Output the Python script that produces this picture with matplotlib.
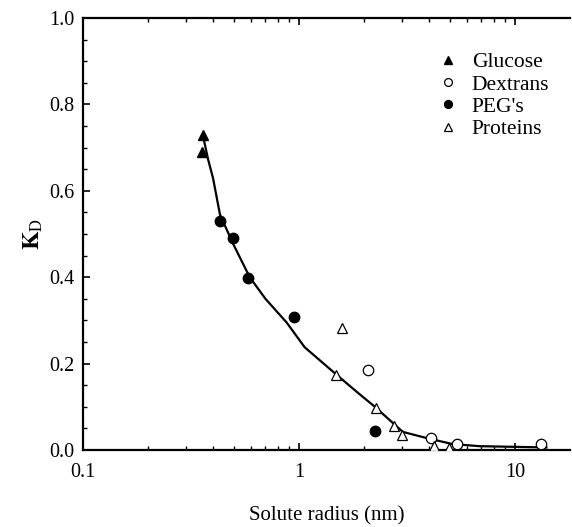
import matplotlib
matplotlib.use("Agg")
import matplotlib.pyplot as plt
from matplotlib.ticker import NullFormatter, MultipleLocator, FormatStrFormatter

plt.rcParams['font.family'] = ['Liberation Serif', 'DejaVu Serif']
plt.rcParams['mathtext.fontset'] = 'stix'

glucose_x = [0.359, 0.357]
glucose_y = [0.729, 0.690]
dextran_x = [2.08, 4.08, 5.37, 13.2]
dextran_y = [0.185, 0.029, 0.014, 0.014]
peg_x = [0.431, 0.495, 0.581, 0.948, 2.25]
peg_y = [0.530, 0.491, 0.398, 0.308, 0.044]
protein_x = [1.587, 1.48, 2.27, 2.75, 2.99, 4.23, 4.96]
protein_y = [0.282, 0.174, 0.097, 0.056, 0.035, 0.010, 0.004]
curve_x = [0.359, 0.38, 0.40, 0.431, 0.495, 0.592, 0.70, 0.878, 1.063, 1.465, 1.85, 2.25, 2.65, 3.03, 4.03, 5.14, 6.85, 14.0]
curve_y = [0.729, 0.672, 0.630, 0.545, 0.478, 0.400, 0.350, 0.295, 0.238, 0.178, 0.135, 0.100, 0.068, 0.042, 0.026, 0.014, 0.009, 0.006]

fig = plt.figure(figsize=(5.72, 5.27), dpi=100)
ax = fig.add_axes([0.145, 0.146, 0.8515, 0.82])

ax.plot(curve_x, curve_y, color='black', lw=1.6, zorder=2)
ax.plot(glucose_x, glucose_y, '^', color='black', ms=7.5, ls='none', label='Glucose', zorder=3)
ax.plot(dextran_x, dextran_y, 'o', mfc='white', mec='black', mew=0.9, ms=7.5, ls='none', label='Dextrans', zorder=3)
ax.plot(peg_x, peg_y, 'o', color='black', ms=7.5, ls='none', label="PEG's", zorder=3)
ax.plot(protein_x, protein_y, '^', mfc='white', mec='black', mew=0.9, ms=7.5, ls='none', label='Proteins', zorder=3)

ax.set_xscale('log')
ax.set_xlim(0.1, 18)
ax.set_xticks([0.1, 1, 10])
ax.set_xticklabels(['0.1', '1', '10'])
ax.yaxis.set_major_locator(MultipleLocator(0.2))
ax.yaxis.set_minor_locator(MultipleLocator(0.05))
ax.yaxis.set_major_formatter(FormatStrFormatter('%.1f'))
ax.xaxis.set_minor_formatter(NullFormatter())
ax.set_ylim(0, 1.0)

ax.spines['right'].set_visible(False)
for s in ['left', 'bottom', 'top']:
    ax.spines[s].set_linewidth(1.6)
ax.tick_params(which='both', direction='in', top=True, right=False, labelsize=14.5)
ax.tick_params(which='major', length=5, width=1.2, pad=9)
ax.tick_params(which='minor', length=3, width=1.0)
ax.tick_params(axis='y', which='major', pad=6)

ax.set_xlabel('Solute radius (nm)', fontsize=15, labelpad=18)
ax.set_ylabel(r'$\mathbf{K}_{\mathrm{D}}$', fontsize=17, labelpad=3)

leg = ax.legend(loc='upper left', bbox_to_anchor=(0.688, 0.965), frameon=False,
                fontsize=15.5, handletextpad=0.6, labelspacing=0.1,
                handlelength=1.0, markerscale=0.75)

fig.savefig('out.png', dpi=100)
